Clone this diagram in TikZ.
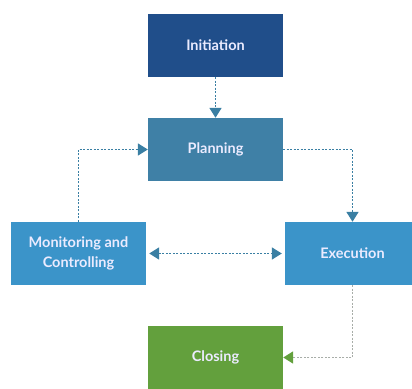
\documentclass[tikz,border=0pt]{standalone}
\usepackage{fontspec}
\setmainfont{Lato}
\usepackage{xcolor}
\usetikzlibrary{arrows.meta}
\definecolor{initblue}{HTML}{204E8A}
\definecolor{planblue}{HTML}{3F80A6}
\definecolor{workblue}{HTML}{3B94C9}
\definecolor{closegreen}{HTML}{63A03D}
\definecolor{linkblue}{HTML}{3A7FA3}
\definecolor{linkgray}{HTML}{A8ADA8}
\begin{document}
\begin{tikzpicture}[
  x=1pt, y=1pt,
  stage/.style={rectangle, minimum width=135pt, minimum height=63pt, inner sep=0pt,
    text=white!92!blue, font=\bfseries\fontsize{14.5}{20}\selectfont, align=center},
  link/.style={draw=linkblue, line width=1.7pt, dash pattern=on 2.2pt off 1.3pt,
    -{Triangle[length=10pt, width=12pt]}}
]
\useasboundingbox (0,0) rectangle (412,388);
\clip (0,0) rectangle (412,388);
\node[stage, fill=initblue] (init) at (215.5,342.5) {Initiation};
\node[stage, fill=planblue] (plan) at (215.5,238.5) {Planning};
\node[stage, fill=workblue] (monitor) at (78.5,134.5) {Monitoring and\\Controlling};
\node[stage, fill=workblue] (exec) at (352.5,134.5) {Execution};
\node[stage, fill=closegreen] (close) at (215.5,30.5) {Closing};
\draw[link] (init) -- (plan);
\draw[link] (monitor.north) |- (plan.west);
\draw[link] (plan.east) -| (exec.north);
\draw[link, {Triangle[length=10pt, width=12pt]}-{Triangle[length=10pt, width=12pt]}]
  ([xshift=3pt]monitor.east) -- ([xshift=-3pt]exec.west);
\draw[link, draw=linkgray, -{Triangle[length=10pt, width=12pt, color=closegreen]}]
  (exec.south) |- (close.east);
\end{tikzpicture}
\end{document}
